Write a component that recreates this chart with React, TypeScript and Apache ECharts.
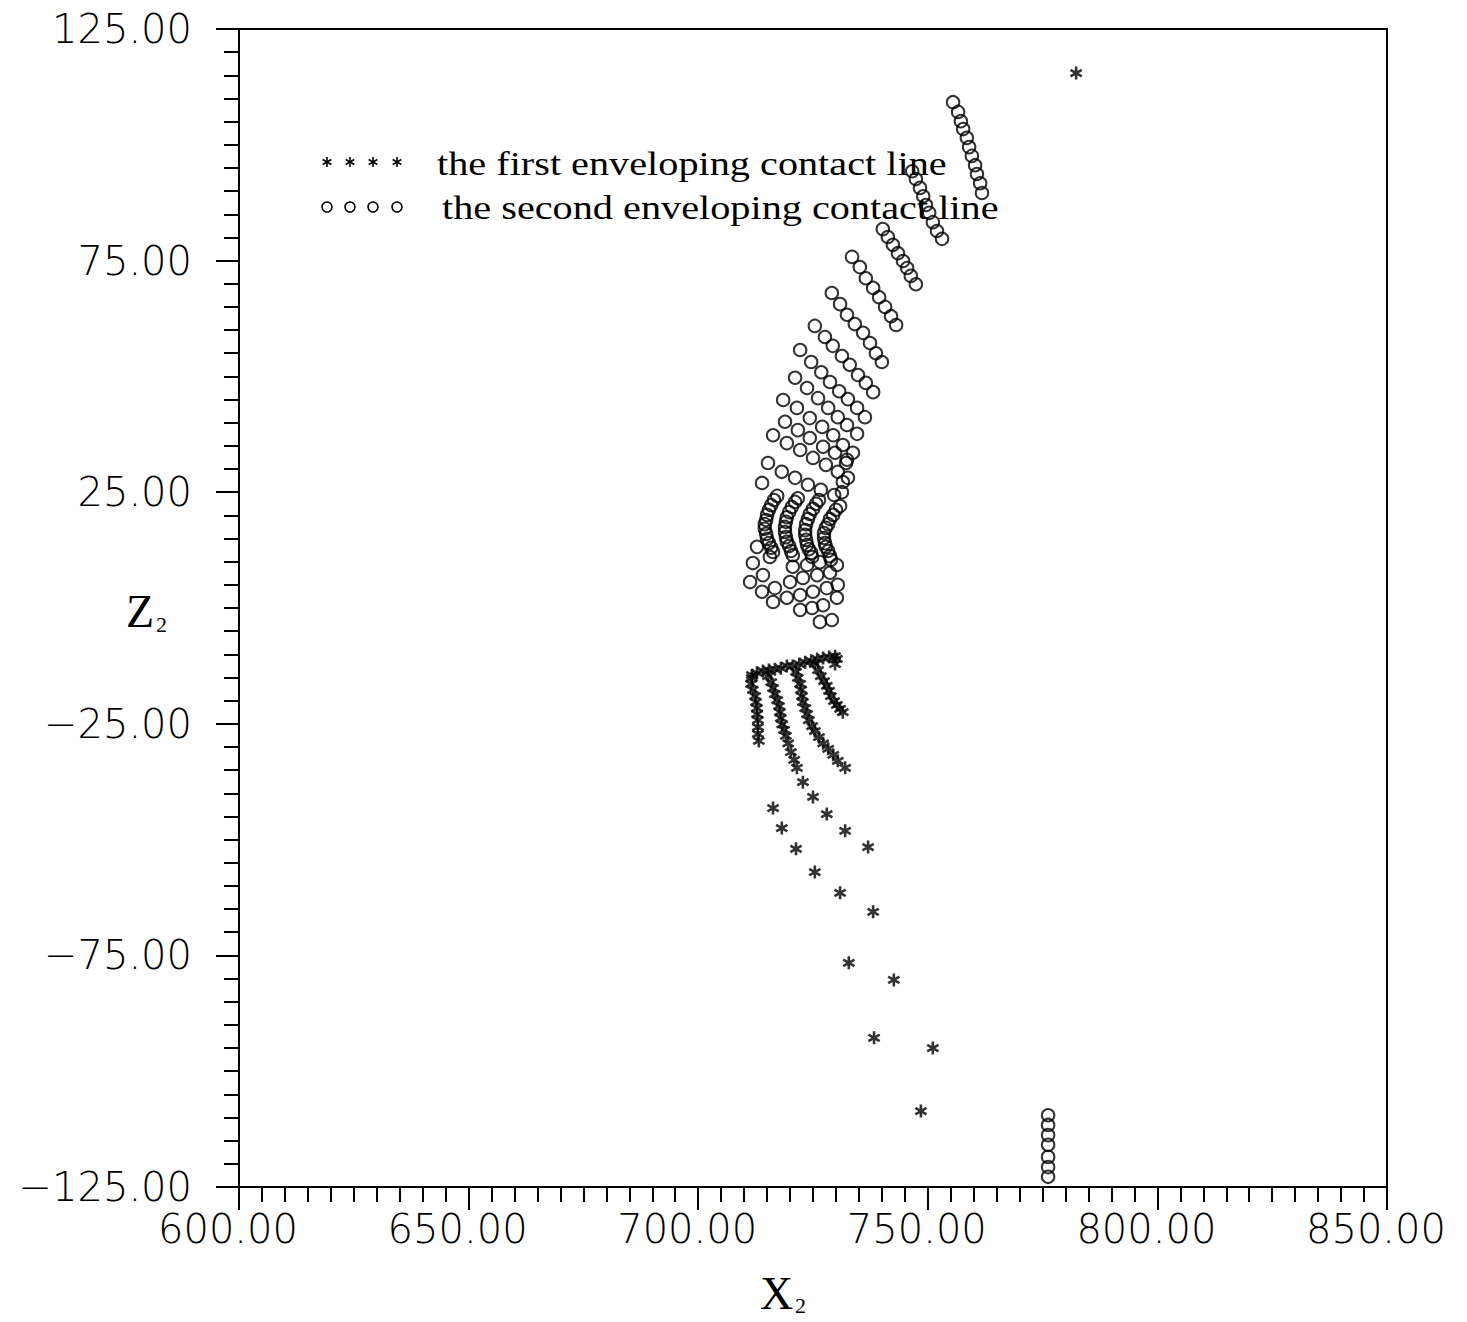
import React, { useEffect, useRef } from "react";
import * as echarts from "echarts";

// ---- axes ----
const xMin = 600;
const xMax = 850;
const zMin = -125;
const zMax = 125;
const tickStep = 50;

// ---- legend texts ----
const legendFirst = "the first enveloping contact line";
const legendSecond = "the second enveloping contact line";
const xTitle = "X";
const zTitle = "Z";
const titleSub = "2";

// ---- second enveloping contact line (circles), [x2, z2] ----
const secondRow01 = [[755.5,109.2],[756.6,107.1],[757.2,105.1],[757.7,103.4],[758.5,101.5],[759.0,99.5],[759.6,97.6],[760.3,95.6],[760.7,93.7],[761.4,91.7],[761.8,89.6]];
const secondRow02 = [[746.6,94.3],[747.4,92.6],[748.3,90.7],[749.0,88.9],[749.6,87.0],[750.3,85.3],[751.1,83.3],[752.0,81.4],[753.1,79.7]];
const secondRow03 = [[740.2,81.8],[741.3,80.1],[742.4,78.4],[743.5,76.6],[744.6,74.9],[745.5,73.4],[746.3,71.7],[747.4,69.9]];
const secondRow04 = [[733.5,75.8],[735.2,73.6],[736.5,71.2],[738.1,69.1],[739.4,67.1],[740.7,65.0],[742.0,63.0],[743.1,61.1]];
const secondRow05 = [[729.1,68.0],[730.9,65.6],[732.4,63.3],[734.1,61.3],[735.9,59.4],[737.4,57.2],[738.7,55.0],[740.0,53.1]];
const secondRow06 = [[725.4,60.9],[727.6,58.5],[729.3,56.6],[731.3,54.4],[733.0,52.5],[734.8,50.3],[736.5,48.6],[738.1,46.6]];
const secondRow07 = [[722.2,55.7],[724.6,53.1],[726.8,50.9],[728.7,48.8],[730.7,46.8],[732.6,45.1],[734.6,43.2],[736.3,41.2]];
const secondRow08 = [[721.1,49.7],[723.7,47.5],[726.1,45.3],[728.3,43.2],[730.4,41.2],[732.4,39.5],[734.6,37.6]];
const secondRow09 = [[718.5,44.9],[721.5,43.2],[724.3,41.0],[727.0,39.1],[729.4,37.3],[731.5,35.2],[733.7,33.5]];
const secondRow10 = [[718.9,40.2],[721.7,38.4],[724.3,36.7],[727.2,34.8],[729.8,33.5],[732.4,32.0]];
const secondRow11 = [[716.3,37.3],[719.3,35.6],[722.2,34.1],[725.0,32.4],[727.8,30.9],[730.4,29.4],[732.6,28.1]];
const secondRow12 = [[715.2,31.3],[718.2,29.4],[721.1,28.1],[723.9,26.6],[726.7,25.5],[729.6,24.4],[731.5,27.2],[731.3,25.0],[732.2,31.3],[713.9,27.0]];
const secondArcA = [[717.2,24.2],[716.5,23.3],[715.9,22.2],[715.4,21.2],[715.0,20.1],[714.8,19.0],[714.5,18.1],[714.5,17.1],[714.8,16.0],[715.0,14.9],[715.4,14.0],[715.9,13.0],[716.3,12.1]];
const secondArcB = [[721.7,23.7],[721.1,22.9],[720.4,21.8],[719.8,20.7],[719.3,19.6],[719.1,18.6],[718.9,17.5],[718.9,16.4],[719.1,15.3],[719.3,14.3],[719.8,13.4],[720.2,12.3],[720.6,11.4]];
const secondArcC = [[726.3,23.3],[725.7,22.5],[725.0,21.4],[724.3,20.3],[723.9,19.2],[723.5,18.1],[723.3,16.8],[723.3,15.8],[723.5,14.7],[723.7,13.6],[724.1,12.7],[724.6,11.9],[724.8,11.0]];
const secondArcD = [[730.9,22.0],[730.0,21.2],[729.4,20.1],[728.7,19.2],[728.3,18.1],[727.8,17.3],[727.4,16.2],[727.4,15.1],[727.6,14.0],[727.8,13.2],[728.3,12.3],[728.7,11.2],[728.9,10.4]];
const secondBase = [
  [712.8,13.2],[711.9,9.7],[715.6,11.0],
  [711.3,5.6],[714.1,7.1],[720.6,8.9],[723.7,9.3],[726.5,9.9],[730.2,9.3],
  [713.9,3.5],[716.7,4.3],[720.0,5.6],[722.8,6.5],[725.9,7.1],[728.7,7.6],
  [716.3,1.3],[719.3,2.2],[722.2,2.8],[725.0,3.5],[728.0,4.3],[730.4,5.0],
  [722.2,-0.4],[724.8,0.0],[727.2,0.6],[730.2,2.2],
  [726.5,-3.0],[729.1,-2.6]
];
const secondLower = [[776.2,-109.5],[776.2,-111.6],[776.2,-113.8],[776.2,-115.9],[776.2,-118.5],[776.2,-120.7],[776.2,-122.8]];

// ---- first enveloping contact line (asterisks), [x2, z2] ----
const firstTopEdge = [[729.8,-10.4],[728.5,-10.6],[727.2,-10.8],[725.9,-11.0],[724.6,-11.4],[723.3,-11.7],[722.0,-12.1],[719.3,-12.5],[718.0,-13.0],[716.7,-13.2],[715.4,-13.4],[714.1,-13.6],[712.8,-14.0],[711.7,-14.5],[730.2,-11.0],[729.8,-12.1]];
const firstStrand1 = [[711.7,-15.1],[711.5,-16.4],[711.9,-17.7],[712.4,-19.0],[712.6,-20.3],[712.8,-21.6],[712.8,-22.9],[713.0,-24.2],[713.0,-25.7],[713.0,-27.2],[713.2,-28.7]];
const firstStrand2 = [[715.2,-14.7],[715.9,-16.0],[716.3,-17.3],[716.7,-18.6],[717.2,-19.9],[717.6,-21.2],[717.8,-22.5],[718.0,-23.8],[718.3,-25.1],[718.7,-26.3],[719.1,-27.6],[719.6,-29.2],[720.2,-31.1],[720.9,-32.8],[721.5,-34.5]];
const firstStrand3 = [[720.6,-12.5],[721.3,-13.8],[721.7,-15.1],[722.2,-16.4],[722.4,-17.7],[722.6,-19.0],[722.8,-20.3],[723.3,-21.6],[723.7,-22.9],[724.1,-24.2],[724.8,-25.5],[725.4,-26.6],[726.3,-27.9],[727.2,-29.2],[728.3,-30.4],[729.4,-31.7],[730.4,-33.0],[732.0,-34.5]];
const firstStrand4 = [[725.4,-12.1],[726.1,-13.4],[726.7,-14.7],[727.4,-15.8],[728.0,-16.8],[728.5,-17.9],[728.9,-19.0],[729.6,-20.1],[730.2,-20.9],[730.9,-21.8],[731.5,-22.5]];
const firstSparse = [[722.8,-37.6],[725.0,-40.8],[728.0,-44.5],[732.0,-48.1],[737.0,-51.6],[716.3,-43.2],[718.2,-47.5],[721.3,-52.0],[725.4,-57.0],[730.9,-61.5],[738.1,-65.6],[732.8,-76.6],[742.6,-80.3],[738.3,-92.8],[751.1,-95.0],[748.5,-108.6]];
const firstUpper = [[782.3,115.5]];

const secondAll = [
  ...secondRow01, ...secondRow02, ...secondRow03, ...secondRow04, ...secondRow05, ...secondRow06,
  ...secondRow07, ...secondRow08, ...secondRow09, ...secondRow10, ...secondRow11, ...secondRow12,
  ...secondArcA, ...secondArcB, ...secondArcC, ...secondArcD, ...secondBase, ...secondLower,
];
const firstAll = [
  ...firstTopEdge, ...firstStrand1, ...firstStrand2, ...firstStrand3, ...firstStrand4, ...firstSparse, ...firstUpper,
];

const ASTER = "path://M0,-10L0,10M-8.66,-5L8.66,5M-8.66,5L8.66,-5";

function legendAsterisk(cx: number, cy: number, r: number) {
  const dx = r * 0.866;
  const dy = r * 0.5;
  const st = { stroke: "#000", lineWidth: 1.6 };
  return [
    { type: "line", shape: { x1: cx, y1: cy - r, x2: cx, y2: cy + r }, style: st },
    { type: "line", shape: { x1: cx - dx, y1: cy - dy, x2: cx + dx, y2: cy + dy }, style: st },
    { type: "line", shape: { x1: cx - dx, y1: cy + dy, x2: cx + dx, y2: cy - dy }, style: st },
  ];
}

export default function App() {
  const ref = useRef<HTMLDivElement>(null);
  useEffect(() => {
    if (!ref.current) return;
    const chart = echarts.init(ref.current, null, { renderer: "svg" });
    const markerXs = [327, 350, 373, 397];
    const legendEls: any[] = [];
    markerXs.forEach((mx) => legendEls.push(...legendAsterisk(mx, 162, 5)));
    markerXs.forEach((mx) =>
      legendEls.push({ type: "circle", shape: { cx: mx, cy: 207, r: 5 }, style: { fill: "none", stroke: "#000", lineWidth: 1.6 } })
    );
    legendEls.push({
      type: "text", x: 437, y: 164, scaleX: 1.22,
      style: { text: legendFirst, fontFamily: "Liberation Serif", fontSize: 33, fill: "#000", textVerticalAlign: "middle", backgroundColor: "#fff" },
    });
    legendEls.push({
      type: "text", x: 442, y: 208, scaleX: 1.22,
      style: { text: legendSecond, fontFamily: "Liberation Serif", fontSize: 33, fill: "#000", textVerticalAlign: "middle", backgroundColor: "#fff" },
    });

    const axisCommon = {
      type: "value" as const,
      interval: tickStep,
      axisLine: { show: true, onZero: false, lineStyle: { color: "#000", width: 2 } },
      axisTick: { show: true, length: 23, lineStyle: { color: "#000", width: 2 } },
      minorTick: { show: true, splitNumber: 10, length: 15, lineStyle: { color: "#000", width: 2 } },
      splitLine: { show: false },
      minorSplitLine: { show: false },
    };

    chart.setOption({
      animation: false,
      backgroundColor: "#fff",
      grid: { left: 239, top: 29, width: 1148, height: 1158, show: true, borderColor: "#000", borderWidth: 2, backgroundColor: "transparent" },
      xAxis: {
        ...axisCommon,
        min: xMin,
        max: xMax,
        axisLabel: {
          formatter: (v: number) => v.toFixed(2),
          fontFamily: "DejaVu Sans", fontWeight: 200, fontSize: 40, color: "#000", margin: 22,
          padding: [0, 22, 0, 0],
          showMinLabel: true, showMaxLabel: true,
        },
      },
      yAxis: {
        ...axisCommon,
        min: zMin,
        max: zMax,
        axisLabel: {
          formatter: (v: number) => v.toFixed(2).replace("-", "\u2212"),
          fontFamily: "DejaVu Sans", fontWeight: 200, fontSize: 40, color: "#000", margin: 47,
          showMinLabel: true, showMaxLabel: true,
        },
      },
      graphic: [
        { type: "group", z: 100, children: legendEls },
        { type: "text", x: 126, y: 611, style: { text: zTitle, fontFamily: "Liberation Serif", fontSize: 46, fill: "#000", textVerticalAlign: "middle" } },
        { type: "text", x: 156, y: 624, style: { text: titleSub, fontFamily: "Liberation Serif", fontSize: 22, fill: "#000", textVerticalAlign: "middle" } },
        { type: "text", x: 760, y: 1293, style: { text: xTitle, fontFamily: "Liberation Serif", fontSize: 46, fill: "#000", textVerticalAlign: "middle" } },
        { type: "text", x: 795, y: 1305, style: { text: titleSub, fontFamily: "Liberation Serif", fontSize: 22, fill: "#000", textVerticalAlign: "middle" } },
      ],
      series: [
        {
          name: "the second enveloping contact line",
          type: "scatter",
          data: secondAll,
          symbol: "circle",
          symbolSize: 12.5,
          itemStyle: { color: "rgba(0,0,0,0)", borderColor: "#000", borderWidth: 2 },
          silent: true,
          z: 2,
        },
        {
          name: "the first enveloping contact line",
          type: "scatter",
          data: firstAll,
          symbol: ASTER,
          symbolSize: 13,
          symbolKeepAspect: true,
          itemStyle: { color: "rgba(0,0,0,0)", borderColor: "#000", borderWidth: 2.6 },
          silent: true,
          z: 3,
        },
      ],
    });
    return () => chart.dispose();
  }, []);
  return (
    <div
      ref={ref}
      style={{ position: "fixed", left: 0, top: 0, width: 1467, height: 1322, background: "#fff" }}
    />
  );
}
